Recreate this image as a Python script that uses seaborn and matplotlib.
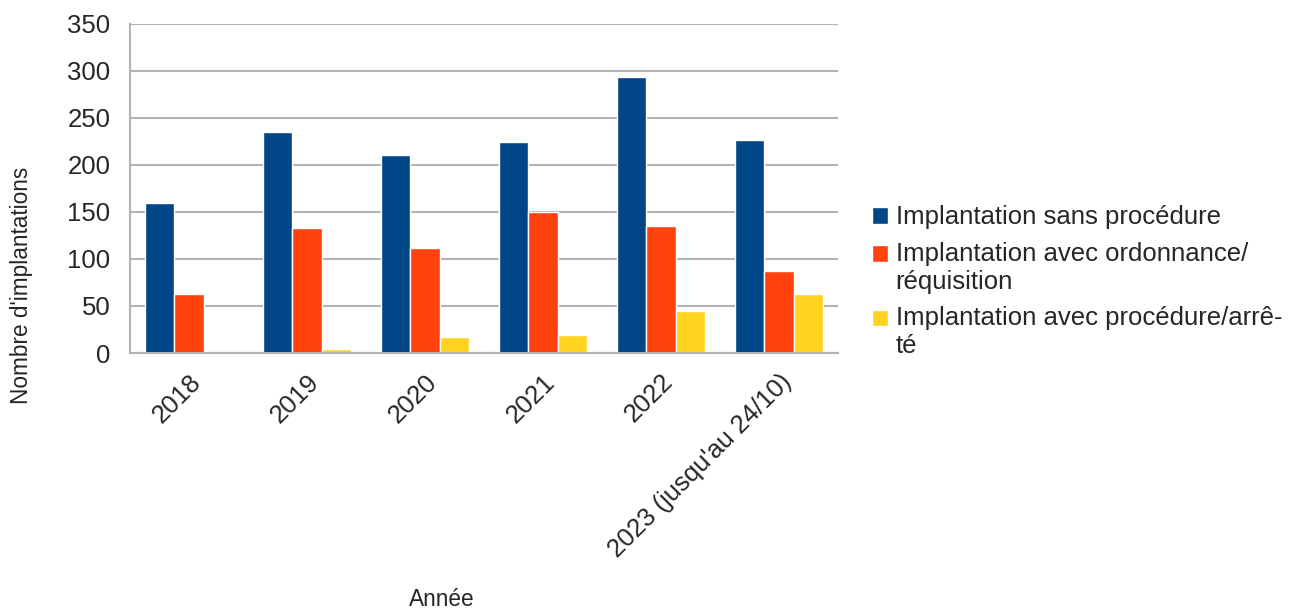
import pandas as pd
import numpy as np
import seaborn as sns
import matplotlib.pyplot as plt
from matplotlib.patches import Rectangle
from matplotlib.legend_handler import HandlerPatch

# valeurs
annees = ['2018', '2019', '2020', '2021', '2022', "2023 (jusqu'au 24/10)"]
sans_procedure = [160, 235, 211, 224, 294, 227]
avec_ordonnance = [63, 133, 112, 150, 135, 87]
avec_arrete = [0, 4, 17, 19, 45, 63]
series = ['Implantation sans procédure',
          'Implantation avec ordonnance/\nréquisition',
          'Implantation avec procédure/arrê-\nté']
couleurs = ['#004586', '#ff420e', '#ffd320']

df = pd.DataFrame({'Année': annees * 3,
                   'Nombre': sans_procedure + avec_ordonnance + avec_arrete,
                   'Série': [s for s in series for _ in annees]})

sns.set_style('white')
plt.rcParams['font.family'] = ['Liberation Sans', 'DejaVu Sans']

fig = plt.figure(figsize=(12.96, 6.12), dpi=100)
ax = fig.add_axes([0.1003, 0.4232, 0.5463, 0.5378])

sns.barplot(data=df, x='Année', y='Nombre', hue='Série', palette=couleurs,
            width=0.74, gap=0, saturation=1, ax=ax, legend=True)

grey = '#b3b3b3'
ax.set_ylim(0, 350)
ax.set_xlim(-0.5, len(annees) - 0.5)
ax.set_yticks(np.arange(0, 351, 50))
ax.yaxis.grid(True, color=grey, linewidth=1.5)
ax.set_axisbelow(True)
for s in ['top', 'right']:
    ax.spines[s].set_visible(False)
for s in ['left', 'bottom']:
    ax.spines[s].set_color(grey)
    ax.spines[s].set_linewidth(1.5)

# ticks entre les groupes sur l'axe x
ax.set_xticks(np.arange(len(annees)))
ax.set_xticklabels(annees, rotation=45, ha='right', rotation_mode='anchor', fontsize=18.5)
ax.tick_params(axis='x', length=0, pad=12)
ax.set_xticks(np.arange(-0.5, len(annees)), minor=True)
ax.tick_params(axis='x', which='minor', length=10, width=1.5, color=grey)
ax.tick_params(axis='y', length=10, width=1.5, color=grey, labelsize=18.5, pad=4)

ax.set_ylabel("Nombre d'implantations", fontsize=16.3)
ax.yaxis.set_label_coords(-0.137, 0.204)
ax.set_xlabel('Année', fontsize=16.3)
ax.xaxis.set_label_coords(0.44, -0.715)


# carré de légende aligné sur la première ligne du texte
def carre_haut(legend, orig_handle, xdescent, ydescent, width, height, fontsize):
    return Rectangle((-xdescent, -ydescent + 10.5), width, height)


handles, labels = ax.get_legend_handles_labels()
ax.get_legend().remove()
hmap = {h: HandlerPatch(patch_func=carre_haut) for h, l in zip(handles, labels) if '\n' in l}
leg = fig.legend(handles, labels, loc='center left', bbox_to_anchor=(0.655, 0.54),
                 frameon=False, fontsize=18.5, handlelength=0.62, handleheight=0.62,
                 handletextpad=0.3, labelspacing=0.5, handler_map=hmap)
for t in leg.get_texts():
    t.set_linespacing(1.18)

plt.savefig('out.png', dpi=100)
